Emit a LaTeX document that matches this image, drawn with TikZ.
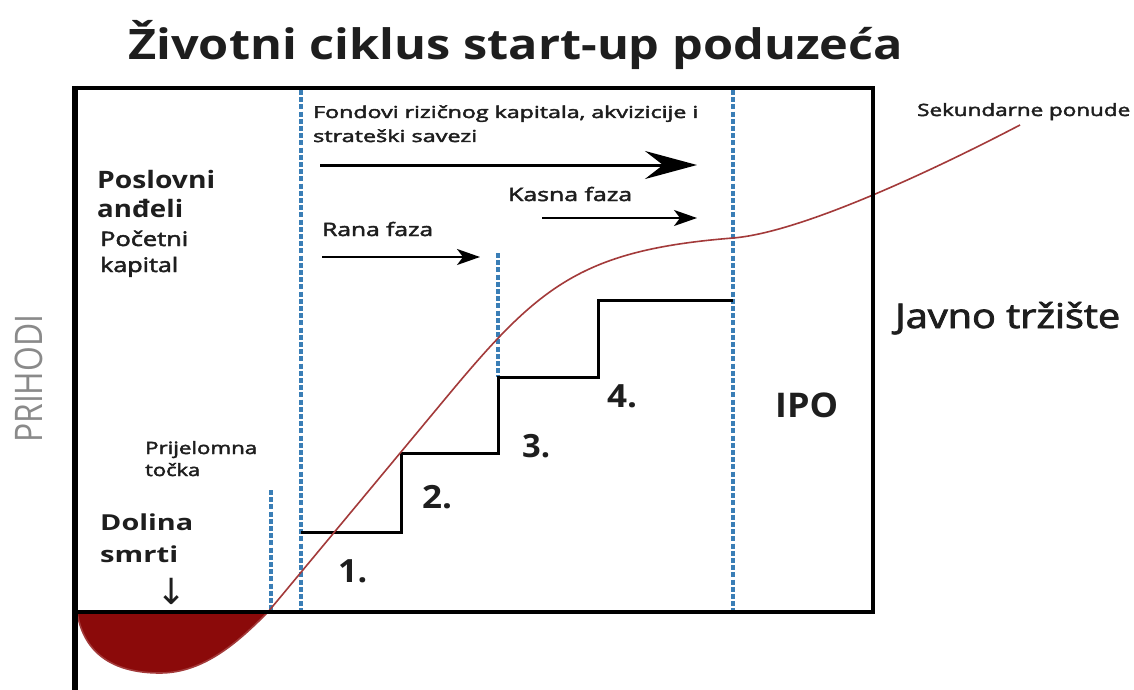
\documentclass[tikz,border=0pt]{standalone}
\usepackage{fontspec}
\usepackage{graphicx}
\setmainfont{Open Sans}
\newfontfamily\semi[FakeBold=2.2]{Open Sans}
\newfontfamily\dejavu{DejaVu Sans}
\usetikzlibrary{arrows.meta}
\definecolor{dashblue}{HTML}{3A7EB6}
\definecolor{curvered}{HTML}{A33A3A}
\definecolor{valley}{HTML}{8B0A0A}
\definecolor{axisgray}{HTML}{8A8A8A}
\definecolor{ink}{HTML}{1E1E1E}
\newcommand{\fitw}[2]{\resizebox{#1pt}{\height}{#2}}
\newcommand{\fs}[1]{\fontsize{#1}{#1}\selectfont}
\begin{document}
\begin{tikzpicture}[x=1pt,y=-1pt,
  lbl/.style={inner sep=0pt, anchor=base west, text=ink},
  frame/.style={line width=4.5pt, black, line join=miter},
  vdash/.style={dashblue, line width=3.2pt, dash pattern=on 5pt off 2.2pt},
  stairs/.style={line width=3pt, black},
  growth/.style={curvered, line width=1.6pt},
  bigarrow/.style={line width=3pt, -{Stealth[length=52pt,width=28pt,inset=18pt]}},
  smallarrow/.style={line width=2pt, -{Stealth[length=23pt,width=16pt,inset=6pt]}},
]
\useasboundingbox[fill=white] (0,0) rectangle (1134,690);

% dashed verticals
\draw[vdash] (301,90) -- (301,610);
\draw[vdash] (733,90) -- (733,610);
\draw[vdash] (498,253) -- (498,377);
\draw[vdash] (271,490) -- (271,610);

% stairs
\draw[stairs] (301,532) -| (401,453) -| (498,377) -| (598,300) -- (733,300);

% valley of death
\fill[valley] (77,612) .. controls (85,662) and (125,673) .. (160,673)
  .. controls (205,673) and (240,640) .. (268,612) -- cycle;
\draw[growth] (77,612) .. controls (85,662) and (125,673) .. (160,673)
  .. controls (205,673) and (240,640) .. (268,612);

% growth curve
\draw[growth] (268,612) -- (450,393)
  .. controls (540,285) and (583,250) .. (733,238)
  .. controls (800,232.6) and (930,172) .. (1020,125);

% frame
\draw[frame] (75,88) -- (873,88) -- (873,612) -- (75,612);
\draw[black, line width=5.5pt] (75,86) -- (75,690);

% arrows
\coordinate (vcS) at (320,165); \coordinate (vcE) at (697,165);
\draw[bigarrow] (vcS) -- (vcE);
\coordinate (lateS) at (542,218); \coordinate (lateE) at (697,218);
\draw[smallarrow] (lateS) -- (lateE);
\coordinate (earlyS) at (322,257); \coordinate (earlyE) at (480,257);
\draw[smallarrow] (earlyS) -- (earlyE);

% texts
\node[lbl] (title) at (128,60) {\fitw{775}{\fs{42}\bfseries Životni ciklus start-up poduzeća}};
\node[lbl] (vc1) at (313,118) {\fitw{385}{\fs{16.5}\semi Fondovi rizičnog kapitala, akvizicije i}};
\node[lbl] (vc2) at (313,142) {\fitw{164}{\fs{16.5}\semi strateški savezi}};
\node[lbl] (late) at (508,201) {\fitw{124}{\fs{18.5}\semi Kasna faza}};
\node[lbl] (early) at (322,236) {\fitw{111}{\fs{18.5}\semi Rana faza}};
\node[lbl] (ang1) at (97,188) {\fitw{118}{\fs{24}\bfseries Poslovni}};
\node[lbl] (ang2) at (97,217) {\fitw{86}{\fs{24}\bfseries anđeli}};
\node[lbl] (seed1) at (100,246) {\fitw{88}{\fs{20}\semi Početni}};
\node[lbl] (seed2) at (100,272) {\fitw{78}{\fs{20}\semi kapital}};
\node[lbl] (be1) at (145,454) {\fitw{112}{\fs{17}\semi Prijelomna}};
\node[lbl] (be2) at (145,476) {\fitw{55}{\fs{17}\semi točka}};
\node[lbl] (dv1) at (100,530) {\fitw{93}{\fs{22}\bfseries Dolina}};
\node[lbl] (dv2) at (100,562) {\fitw{78}{\fs{22}\bfseries smrti}};
\node[inner sep=0pt, anchor=base, text=ink] (down) at (172,604) {\dejavu\fs{36}↓};
\node[lbl] (sec) at (917,116) {\fitw{213}{\fs{17}\semi Sekundarne ponude}};
\node[lbl] (pub) at (895,328) {\fitw{225}{\fs{34}\semi Javno tržište}};
\node[lbl] (ipo) at (775,417) {\fitw{63}{\fs{34}\bfseries IPO}};
\node[lbl] (s1) at (338,582) {\fitw{29}{\fs{32}\bfseries 1.}};
\node[lbl] (s2) at (422,508) {\fitw{30}{\fs{32}\bfseries 2.}};
\node[lbl] (s3) at (522,457) {\fitw{28}{\fs{32}\bfseries 3.}};
\node[lbl] (s4) at (607,407) {\fitw{30}{\fs{32}\bfseries 4.}};
\node[lbl, rotate=90, text=axisgray] (rev) at (42,443) {\fitw{128}{\fs{38}PRIHODI}};
\end{tikzpicture}
\end{document}
